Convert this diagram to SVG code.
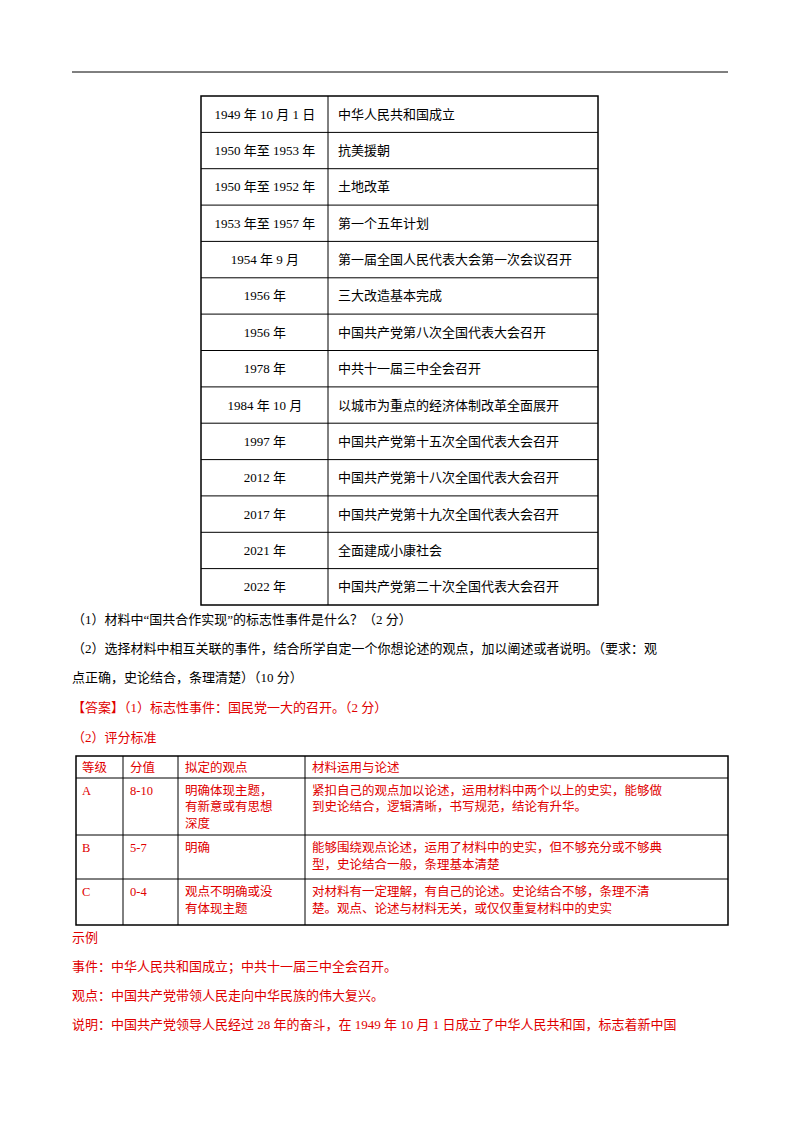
<svg xmlns="http://www.w3.org/2000/svg" width="800" height="1132" viewBox="0 0 800 1132">
<style>
text{font-family:"Liberation Serif","Noto Sans CJK SC",serif;font-size:13px;fill:#000}
.r{fill:#e00000}
.c{text-anchor:middle}
.t{font-size:12.5px}
line{stroke:#000;stroke-width:1}
.b{stroke-width:1.5}
</style>
<rect width="800" height="1132" fill="#fff"/>
<line x1="72" y1="72" x2="728" y2="72"/>
<g id="table1">
<rect x="201" y="96" width="397" height="509" fill="none" stroke="#000" stroke-width="1.5"/>
<line x1="328" y1="96" x2="328" y2="605"/>
<g>
<line x1="201" y1="132.4" x2="598" y2="132.4"/><line x1="201" y1="168.7" x2="598" y2="168.7"/>
<line x1="201" y1="205.1" x2="598" y2="205.1"/><line x1="201" y1="241.4" x2="598" y2="241.4"/>
<line x1="201" y1="277.8" x2="598" y2="277.8"/><line x1="201" y1="314.1" x2="598" y2="314.1"/>
<line x1="201" y1="350.5" x2="598" y2="350.5"/><line x1="201" y1="386.9" x2="598" y2="386.9"/>
<line x1="201" y1="423.2" x2="598" y2="423.2"/><line x1="201" y1="459.6" x2="598" y2="459.6"/>
<line x1="201" y1="495.9" x2="598" y2="495.9"/><line x1="201" y1="532.3" x2="598" y2="532.3"/>
<line x1="201" y1="568.6" x2="598" y2="568.6"/>
</g>
<g class="c">
<text x="265" y="119" class="c">1949 年 10 月 1 日</text>
<text x="265" y="155" class="c">1950 年至 1953 年</text>
<text x="265" y="191" class="c">1950 年至 1952 年</text>
<text x="265" y="228" class="c">1953 年至 1957 年</text>
<text x="265" y="264" class="c">1954 年 9 月</text>
<text x="265" y="300" class="c">1956 年</text>
<text x="265" y="337" class="c">1956 年</text>
<text x="265" y="373" class="c">1978 年</text>
<text x="265" y="410" class="c">1984 年 10 月</text>
<text x="265" y="446" class="c">1997 年</text>
<text x="265" y="482" class="c">2012 年</text>
<text x="265" y="519" class="c">2017 年</text>
<text x="265" y="555" class="c">2021 年</text>
<text x="265" y="591" class="c">2022 年</text>
</g>
<text x="338" y="119">中华人民共和国成立</text>
<text x="338" y="155">抗美援朝</text>
<text x="338" y="191">土地改革</text>
<text x="338" y="228">第一个五年计划</text>
<text x="338" y="264">第一届全国人民代表大会第一次会议召开</text>
<text x="338" y="300">三大改造基本完成</text>
<text x="338" y="337">中国共产党第八次全国代表大会召开</text>
<text x="338" y="373">中共十一届三中全会召开</text>
<text x="338" y="410">以城市为重点的经济体制改革全面展开</text>
<text x="338" y="446">中国共产党第十五次全国代表大会召开</text>
<text x="338" y="482">中国共产党第十八次全国代表大会召开</text>
<text x="338" y="519">中国共产党第十九次全国代表大会召开</text>
<text x="338" y="555">全面建成小康社会</text>
<text x="338" y="591">中国共产党第二十次全国代表大会召开</text>
</g>
<text x="72" y="624">（1）材料中“国共合作实现”的标志性事件是什么？（2 分）</text>
<text x="72" y="653">（2）选择材料中相互关联的事件，结合所学自定一个你想论述的观点，加以阐述或者说明。（要求：观</text>
<text x="72" y="682">点正确，史论结合，条理清楚）（10 分）</text>
<text x="72" y="712" class="r">【答案】（1）标志性事件：国民党一大的召开。（2 分）</text>
<text x="72" y="742" class="r">（2）评分标准</text>
<g id="table2">
<rect x="76" y="756" width="652" height="169" fill="none" stroke="#000" stroke-width="1.5"/>
<line x1="123" y1="756" x2="123" y2="925"/><line x1="178" y1="756" x2="178" y2="925"/><line x1="305" y1="756" x2="305" y2="925"/>
<line x1="76" y1="778" x2="728" y2="778"/><line x1="76" y1="835" x2="728" y2="835"/><line x1="76" y1="879" x2="728" y2="879"/>
<g class="r t">
<text x="82" y="772" class="r t">等级</text><text x="130" y="772" class="r t">分值</text><text x="185" y="772" class="r t">拟定的观点</text><text x="312" y="772" class="r t">材料运用与论述</text>
<text x="82" y="795" class="r t">A</text><text x="130" y="795" class="r t">8-10</text>
<text x="185" y="795" class="r t">明确体现主题，</text><text x="185" y="811" class="r t">有新意或有思想</text><text x="185" y="828" class="r t">深度</text>
<text x="312" y="795" class="r t">紧扣自己的观点加以论述，运用材料中两个以上的史实，能够做</text>
<text x="312" y="811" class="r t">到史论结合，逻辑清晰，书写规范，结论有升华。</text>
<text x="82" y="852" class="r t">B</text><text x="130" y="852" class="r t">5-7</text><text x="185" y="852" class="r t">明确</text>
<text x="312" y="852" class="r t">能够围绕观点论述，运用了材料中的史实，但不够充分或不够典</text>
<text x="312" y="869" class="r t">型，史论结合一般，条理基本清楚</text>
<text x="82" y="896" class="r t">C</text><text x="130" y="896" class="r t">0-4</text>
<text x="185" y="896" class="r t">观点不明确或没</text><text x="185" y="913" class="r t">有体现主题</text>
<text x="312" y="896" class="r t">对材料有一定理解，有自己的论述。史论结合不够，条理不清</text>
<text x="312" y="913" class="r t">楚。观点、论述与材料无关，或仅仅重复材料中的史实</text>
</g>
</g>
<text x="72" y="942" class="r">示例</text>
<text x="72" y="971" class="r">事件：中华人民共和国成立；中共十一届三中全会召开。</text>
<text x="72" y="1000" class="r">观点：中国共产党带领人民走向中华民族的伟大复兴。</text>
<text x="72" y="1029" class="r">说明：中国共产党领导人民经过 28 年的奋斗，在 1949 年 10 月 1 日成立了中华人民共和国，标志着新中国</text>
</svg>
